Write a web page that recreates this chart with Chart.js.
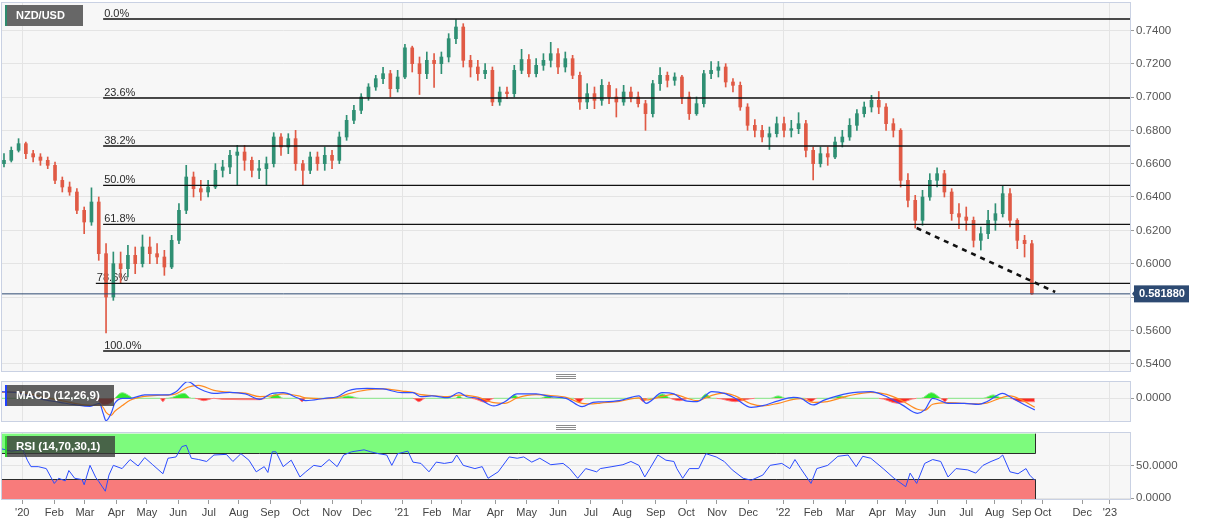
<!DOCTYPE html>
<html><head><meta charset="utf-8">
<script src="https://cdn.jsdelivr.net/npm/chart.js@4.4.1/dist/chart.umd.min.js"></script>
<style>
html,body{margin:0;padding:0;background:#fff;}
body{width:1207px;height:526px;position:relative;overflow:hidden;}
canvas{position:absolute;left:0;}
.grip{position:absolute;left:556px;width:20px;height:3px;border-top:1px solid #8c8c8c;border-bottom:1px solid #8c8c8c;}
.grip:after{content:"";position:absolute;left:0;right:0;top:1px;height:1px;background:#8c8c8c;}
</style></head>
<body>
<canvas id="cMain" width="1207" height="374" style="top:0px"></canvas>
<canvas id="cMacd" width="1207" height="45" style="top:379px"></canvas>
<canvas id="cRsi" width="1207" height="97" style="top:429px"></canvas>
<div class="grip" style="top:374px"></div>
<div class="grip" style="top:425px"></div>
<script>
// ---------------- DATA (weekly candles, x = week index) ----------------
const symbol = 'NZD/USD';
const opens = [.660,.662,.668,.672,.666,.664,.662,.659,.650,.646,
 .643,.632,.625,.637,.606,.580,.600,.597,.605,.600,
 .610,.606,.604,.598,.614,.632,.652,.645,.643,.646,
 .656,.658,.665,.667,.662,.656,.657,.660,.676,.670,
 .675,.660,.656,.664,.660,.665,.662,.676,.686,.692,
 .700,.706,.711,.714,.705,.712,.7295,.720,.714,.722,
 .720,.724,.735,.742,.722,.718,.714,.716,.697,.703,
 .702,.716,.7225,.714,.719,.722,.726,.718,.723,.713,
 .697,.702,.698,.707,.700,.697,.703,.700,.696,.690,
 .708,.713,.710,.712,.700,.690,.696,.714,.716,.718,
 .709,.707,.694,.683,.680,.676,.678,.684,.680,.681,
 .684,.668,.660,.666,.664,.673,.676,.683,.690,.694,
 .698,.694,.684,.680,.650,.638,.626,.640,.650,.654,
 .643,.630,.628,.626,.614,.618,.626,.630,.642,.626,
 .614,.612];
const highs = [.666,.670,.675,.673,.668,.666,.664,.661,.652,.649,
 .645,.634,.6455,.640,.612,.607,.607,.611,.610,.6172,
 .616,.612,.608,.617,.636,.659,.655,.650,.650,.660,
 .662,.668,.671,.671,.664,.662,.664,.6786,.678,.678,
 .680,.662,.667,.667,.670,.668,.679,.689,.695,.702,
 .708,.713,.7178,.716,.716,.7316,.7305,.724,.727,.726,
 .727,.738,.7465,.744,.725,.722,.720,.718,.706,.706,
 .719,.7286,.7255,.723,.726,.7328,.729,.727,.725,.715,
 .708,.706,.7105,.709,.705,.707,.706,.703,.698,.710,
 .7177,.715,.7145,.713,.703,.700,.716,.7213,.7213,.720,
 .711,.709,.696,.6865,.683,.682,.688,.688,.686,.6906,
 .686,.670,.670,.670,.676,.680,.687,.6925,.697,.701,
 .7033,.696,.687,.681,.654,.641,.644,.654,.6575,.656,
 .645,.636,.634,.628,.622,.632,.636,.6467,.645,.627,
 .617,.614];
const lows = [.658,.661,.667,.663,.661,.659,.657,.648,.643,.641,
 .630,.618,.623,.602,.5585,.578,.588,.592,.594,.598,
 .600,.600,.593,.597,.612,.630,.640,.638,.640,.645,
 .652,.654,.647,.656,.652,.651,.647,.658,.665,.666,
 .656,.647,.654,.656,.656,.657,.660,.674,.684,.690,
 .698,.704,.708,.700,.703,.711,.715,.7015,.711,.7057,
 .714,.721,.732,.718,.712,.710,.711,.6948,.695,.699,
 .700,.714,.712,.712,.716,.718,.714,.715,.711,.6925,
 .693,.693,.695,.696,.688,.695,.697,.694,.680,.688,
 .704,.706,.707,.696,.6865,.689,.694,.711,.712,.706,
 .703,.692,.680,.676,.673,.6685,.676,.676,.676,.678,
 .664,.6503,.658,.659,.663,.670,.674,.680,.688,.691,
 .690,.680,.676,.646,.634,.6214,.623,.638,.646,.640,
 .626,.621,.620,.610,.6082,.615,.620,.628,.622,.609,
 .604,.5815];
const closes = [.662,.668,.672,.666,.664,.662,.659,.650,.646,.643,
 .632,.625,.637,.606,.580,.600,.597,.605,.600,.610,
 .606,.604,.598,.614,.632,.652,.645,.643,.646,.656,
 .658,.665,.667,.662,.656,.657,.660,.676,.670,.675,
 .660,.656,.664,.660,.665,.662,.676,.686,.692,.700,
 .706,.711,.714,.705,.712,.7295,.720,.714,.722,.720,
 .724,.735,.742,.722,.718,.714,.716,.697,.703,.702,
 .716,.7225,.714,.719,.722,.726,.718,.723,.713,.697,
 .702,.698,.707,.700,.697,.703,.700,.696,.690,.708,
 .713,.710,.712,.700,.690,.696,.714,.716,.718,.709,
 .707,.694,.683,.680,.676,.678,.684,.680,.681,.684,
 .668,.660,.666,.664,.673,.676,.683,.690,.694,.698,
 .694,.684,.680,.650,.638,.626,.640,.650,.654,.643,
 .630,.628,.626,.614,.618,.626,.630,.642,.626,.614,
 .612,.58188];
const lastPrice = 0.581880;

const fibRatios = ['0.0%','23.6%','38.2%','50.0%','61.8%','78.6%','100.0%'];
const fibLevels = [0.7468,0.6994,0.6706,0.6470,0.6236,0.5882,0.5476];
const fibStartWeek = [13.6,13.6,13.6,13.6,13.6,12.6,13.6];

const trendWeeks = [125.2,144.2];
const trendPrices = [0.6214,0.5830];

const priceTicks = [0.54,0.56,0.58,0.60,0.62,0.64,0.66,0.68,0.70,0.72,0.74];

const macdLabel = 'MACD (12,26,9)';
const macdWeeks = [-0.5,1.5,3.6,5.6,7.7,9.7,11.8,13.1,13.6,14.0,14.7,15.2,16.3,17.3,19.3,21.0,22.5,23.6,25.2,26.7,28.8,31.0,33.1,35.1,36.8,38.3,40.4,41.4,44.0,45.7,47.2,49.8,52.0,54.6,56.1,57.2,58.7,60.9,62.4,63.5,65.0,67.2,68.7,70.4,73.0,75.0,77.1,79.3,80.8,81.8,84.4,87.1,88.1,90.3,91.9,93.4,95.1,97.1,98.8,100.3,102.5,104.1,106.2,108.3,109.3,111.0,112.6,115.8,118.9,121.1,123.2,125.3,126.3,127.4,129.5,131.7,133.7,134.8,137.0,138.0,139.6,141.4];
const macdVals = [0.0033,0.0030,0.0012,-0.0008,-0.0020,-0.0032,-0.0040,-0.0025,-0.0075,-0.0112,
 -0.0075,-0.0025,0,0,0.0017,0.0017,0.0017,0.0033,0.0083,0.0050,
 0.0025,0.0030,0.0022,-0.0005,0.0025,0.0028,0,-0.0012,0,0.0008,
 0.0038,0.0050,0.0047,0.0028,0.0028,0.0008,0.0012,0.0003,0.0028,0.0008,
 0,-0.0038,-0.0017,0.0022,0.0022,0.0008,0,-0.0042,-0.0020,-0.0018,
 -0.0012,0.0012,-0.0025,0.0028,0.0022,-0.0012,-0.0017,0.0033,0.0025,0,
 -0.0045,-0.0037,-0.0013,0.0005,0,-0.0033,-0.0008,0.0025,0.0033,0.0008,
 -0.0033,-0.0075,-0.0058,0,-0.0025,-0.0025,-0.0030,-0.0017,0.0025,0.0008,
 -0.0025,-0.0058];
const signalVals = [0.0030,0.0031,0.0022,0.0005,-0.0010,-0.0025,-0.0035,-0.0033,-0.0045,-0.0070,
 -0.0085,-0.0065,-0.0035,-0.0010,0.0010,0.0015,0.0016,0.0022,0.0055,0.0065,
 0.0040,0.0030,0.0026,0.0008,0.0012,0.0022,0.0012,0.0002,-0.0002,0.0003,
 0.0022,0.0042,0.0047,0.0036,0.0030,0.0018,0.0014,0.0008,0.0016,0.0015,
 0.0006,-0.0022,-0.0025,0.0002,0.0018,0.0014,0.0005,-0.0025,-0.0028,-0.0024,
 -0.0015,0.0002,-0.0008,0.0010,0.0020,0.0004,-0.0012,0.0015,0.0026,0.0012,
 -0.0028,-0.0038,-0.0025,-0.0005,-0.0002,-0.0020,-0.0018,0.0012,0.0030,0.0020,
 -0.0012,-0.0055,-0.0060,-0.0030,-0.0022,-0.0025,-0.0028,-0.0024,0.0005,0.0012,
 -0.0008,-0.0045];
const histWeeks = [-0.5,12.5,13.6,14.8,15.2,16.2,17.3,17.7,21.4,21.8,22.2,22.5,24.7,25.7,26.2,27.4,28.8,29.9,35.1,35.9,36.2,37.3,38.3,40.3,40.9,41.4,45.7,47.2,48.8,56.1,56.9,57.8,61.9,62.4,63.0,64.1,66.1,67.2,69.3,70.0,70.8,73.5,74.6,75.6,78.2,78.9,79.6,87.1,87.7,88.3,89.1,90.3,91.4,92.7,94.0,95.5,96.3,97.1,97.7,100.3,103.0,105.1,106.2,107.3,109.9,110.7,111.5,113.6,114.7,115.8,120.0,122.6,125.2,125.8,127.2,128.5,129.1,129.5,134.3,135.7,137.0,138.0,139.4,141.4];
const histVals = [0,0,-0.0033,-0.0020,0,0.0028,0.0010,0,0,-0.0017,0,0,0.0025,0,0,-0.0012,0,-0.0005,-0.0007,0,0,0.0022,0,0,-0.0017,0,0,0.0012,0,0,-0.0017,0,0,0.0012,0,0,-0.0020,0,0,0.0017,0,0,0.0012,0,0,-0.0022,0,0,-0.0017,0,0,0.0022,0,-0.0012,0,0,0.0022,0,0,-0.0017,0,0,0.0012,0,0,-0.0017,0,0,0.0012,0,0,-0.0025,0,0,0.0028,0,-0.0017,0,0,0.0017,0,0,-0.0017,-0.0017];

const rsiLabel = 'RSI (14,70,30,1)';
const rsiUpper = 70, rsiLower = 30;
const rsiWeeks = [-0.5,1.0,2.6,3.2,3.7,4.7,5.8,6.9,7.5,8.4,8.9,9.7,10.7,11.0,11.8,12.6,13.0,13.9,14.4,15.0,16.2,17.3,18.4,19.3,20.4,21.8,22.5,23.6,24.4,25.0,25.7,26.7,27.8,28.8,30.5,31.4,32.5,33.6,34.6,35.7,36.2,36.8,37.3,38.3,39.4,40.6,41.4,42.5,43.5,44.6,45.7,46.6,47.7,49.4,50.3,51.4,52.5,53.2,54.0,55.4,56.1,57.2,58.3,59.3,60.4,61.5,62.1,63.0,64.6,65.6,66.4,67.8,69.3,70.4,71.3,72.4,73.5,75.0,76.7,77.6,78.7,79.8,81.3,81.8,83.4,84.9,86.0,87.1,87.9,88.6,89.7,90.8,91.9,92.3,93.1,94.0,95.3,96.3,97.7,98.8,99.9,101.4,102.5,104.1,105.1,106.7,107.8,108.5,109.3,110.7,111.5,113.0,114.4,115.8,116.9,117.8,118.9,120.6,122.1,123.7,124.3,125.2,126.3,127.4,128.5,129.5,130.6,132.2,133.3,134.3,135.4,136.5,137.0,138.0,139.1,140.2,140.7,141.4];
const rsiVals = [77,73,75,59,49,49,46,23,31,27,43,31,29,21,51,32,26,11,36,51,46,60,50,63,52,38,62,64,80,82,62,60,57,67,68,57,69,59,41,49,40,72,72,49,59,33,41,51,49,60,49,67,72,75,72,69,67,51,69,73,56,54,41,56,54,56,67,51,46,49,31,41,64,62,64,56,62,52,54,46,31,46,41,46,49,52,57,51,33,46,67,59,57,46,31,46,46,69,64,57,44,31,28,36,51,54,46,60,46,23,46,51,65,67,49,65,62,46,31,18,39,23,54,60,57,33,46,44,39,51,57,62,67,41,38,46,36,28];

const monthLabels = ["'20","Feb","Mar","Apr","May","Jun","Jul","Aug","Sep","Oct","Nov","Dec","'21","Feb","Mar","Apr","May","Jun","Jul","Aug","Sep","Oct","Nov","Dec","'22","Feb","Mar","Apr","May","Jun","Jul","Aug","Sep","Oct","Dec","'23"];
const monthWeeks = [2.5,6.9,11.1,15.4,19.6,23.9,28.1,32.2,36.5,40.7,45.0,49.1,54.6,58.7,62.8,67.4,71.7,76.0,80.5,84.8,89.4,93.6,97.8,102.1,106.9,111.0,115.4,119.8,123.7,128.0,132.0,135.9,139.6,142.5,147.9,151.7];
const yearWeeks = [2.5,54.6,106.9,151.7];

// ---------------- STYLE ----------------
const FONT = '"Liberation Sans", Arial, sans-serif';
const GREEN = '#2f8f73', RED = '#e05a45', GRID = '#e4e4e4', FRAME = '#c9d1e3', BG = '#f7f7f7';
const X_MIN = -0.41, X_MAX = 154.6, AXIS_W = 76;
Chart.defaults.font.family = FONT;
Chart.defaults.animation = false;
Chart.defaults.events = [];
Chart.defaults.plugins.legend.display = false;
Chart.defaults.plugins.tooltip.enabled = false;

function xScale(ticksArr, labelled) {
  return {
    type: 'linear', min: X_MIN, max: X_MAX, offset: false,
    afterBuildTicks: s => { s.ticks = ticksArr.map(v => ({ value: v })); },
    afterFit: s => { s.height = labelled ? 26 : 0; s.paddingLeft = 0; s.paddingRight = 0; },
    ticks: labelled ? { display: true, autoSkip: false, maxRotation: 0, minRotation: 0, padding: 2, color: '#444', font: { size: 11 }, callback: (v, i) => monthLabels[i] } : { display: false },
    grid: labelled ? { offset: false, color: c => (monthLabels[c.index] || '').charAt(0) === "'" ? GRID : 'rgba(0,0,0,0)', tickColor: '#9a9a9a', tickLength: 4 }
                   : { offset: false, color: GRID, drawTicks: false },
    border: { display: false }
  };
}
function yScale(min, max, ticksArr, fmt) {
  return {
    position: 'right', min, max,
    afterBuildTicks: s => { s.ticks = ticksArr.map(v => ({ value: v })); },
    afterFit: s => { s.width = AXIS_W; s.paddingTop = 0; s.paddingBottom = 0; },
    ticks: { color: '#555', font: { size: 11.5 }, padding: 2, callback: fmt },
    grid: { color: GRID, tickLength: 3, tickColor: '#9a9a9a' },
    border: { display: false }
  };
}
function frameBg(chart) {
  const { ctx, chartArea: a } = chart;
  ctx.save(); ctx.fillStyle = BG; ctx.fillRect(a.left, a.top, a.right - a.left, a.bottom - a.top); ctx.restore();
}
function frameLine(chart) {
  const { ctx, chartArea: a } = chart;
  ctx.save(); ctx.strokeStyle = FRAME; ctx.lineWidth = 1;
  ctx.strokeRect(a.left + 0.5, a.top + 0.5, a.right - a.left - 1, a.bottom - a.top - 1); ctx.restore();
}
function tagBox(ctx, x, y, w, h, bg, edge, text, font) {
  ctx.save();
  ctx.fillStyle = bg; ctx.fillRect(x, y, w, h);
  ctx.fillStyle = edge; ctx.fillRect(x, y, 2, h);
  ctx.fillStyle = '#fff'; ctx.font = font; ctx.textBaseline = 'middle'; ctx.textAlign = 'left';
  ctx.fillText(text, x + 11, y + h / 2 + 0.5);
  ctx.restore();
}
const lineDs = (data, color, width, dash) => ({ type: 'line', data, borderColor: color, borderWidth: width, borderDash: dash || [], pointRadius: 0, tension: 0, fill: false, order: 0 });

// ---------------- MAIN PRICE CHART ----------------
const candleIdx = opens.map((_, i) => i);
const candleColor = c => closes[c.dataIndex] >= opens[c.dataIndex] ? GREEN : RED;

new Chart(document.getElementById('cMain'), {
  type: 'bar',
  data: { datasets: [
    { type: 'bar', data: candleIdx.map(i => ({ x: i, y: [lows[i], highs[i]] })), backgroundColor: candleColor, barThickness: 1, grouped: false, order: 2 },
    { type: 'bar', data: candleIdx.map(i => ({ x: i, y: [opens[i], closes[i]] })), backgroundColor: candleColor, barThickness: 3, minBarLength: 1, grouped: false, order: 1 },
    ...fibLevels.map((lv, k) => lineDs([{ x: fibStartWeek[k], y: lv }, { x: X_MAX, y: lv }], '#111', 1.4)),
    lineDs([{ x: X_MIN, y: lastPrice }, { x: X_MAX, y: lastPrice }], '#2d4a72', 1),
    lineDs(trendWeeks.map((w, k) => ({ x: w, y: trendPrices[k] })), '#111', 2.6, [5, 5])
  ] },
  options: {
    responsive: false,
    layout: { padding: { left: 1, top: 2, right: 0, bottom: 2 } },
    scales: { x: xScale(yearWeeks, false), y: yScale(0.535, 0.757, priceTicks, v => Number(v).toFixed(4)) }
  },
  plugins: [{
    id: 'mainDeco',
    beforeDraw: frameBg,
    beforeDatasetsDraw(chart) {
      const { ctx, scales: { x, y } } = chart;
      ctx.save(); ctx.fillStyle = '#2a2a2a'; ctx.font = '11px ' + FONT; ctx.textBaseline = 'alphabetic';
      fibLevels.forEach((lv, k) => ctx.fillText(fibRatios[k], x.getPixelForValue(fibStartWeek[k]) + 1, y.getPixelForValue(lv) - 2));
      ctx.restore();
    },
    afterDraw(chart) {
      frameLine(chart);
      const { ctx, chartArea: a, scales: { y } } = chart;
      tagBox(ctx, 5, 5, 78, 21, '#676767', '#2e8b6e', symbol, 'bold 11px ' + FONT);
      const py = y.getPixelForValue(lastPrice);
      ctx.save();
      ctx.fillStyle = '#2d4a72';
      ctx.beginPath(); ctx.moveTo(a.right + 1, py); ctx.lineTo(a.right + 5, py - 5); ctx.lineTo(a.right + 5, py + 5); ctx.closePath(); ctx.fill();
      ctx.fillRect(a.right + 3, py - 8.5, 55, 17);
      ctx.fillStyle = '#fff'; ctx.font = 'bold 11px ' + FONT; ctx.textBaseline = 'middle';
      ctx.fillText(lastPrice.toFixed(6), a.right + 8, py + 0.5);
      ctx.restore();
    }
  }]
});

// ---------------- MACD ----------------
const pts = (xs, ys) => xs.map((w, k) => ({ x: w, y: ys[k] }));
new Chart(document.getElementById('cMacd'), {
  type: 'line',
  data: { datasets: [
    { data: pts(histWeeks, histVals), borderWidth: 1, borderColor: '#86e886',
      segment: { borderColor: c => (c.p0.parsed.y + c.p1.parsed.y) < 0 ? '#ff7a7a' : '#86e886' },
      fill: { target: 'origin', above: '#2fe82f', below: '#ff2626' }, pointRadius: 0, cubicInterpolationMode: 'monotone', order: 3 },
    { data: pts(macdWeeks, signalVals), borderColor: '#ff8a1f', borderWidth: 1.2, pointRadius: 0, cubicInterpolationMode: 'monotone', fill: false, order: 2 },
    { data: pts(macdWeeks, macdVals), borderColor: '#3050ff', borderWidth: 1.2, pointRadius: 0, cubicInterpolationMode: 'monotone', fill: false, order: 1 }
  ] },
  options: {
    responsive: false,
    layout: { padding: { left: 1, top: 2, right: 0, bottom: 2 } },
    scales: { x: xScale(yearWeeks, false), y: yScale(-0.01185, 0.00865, [0], v => Number(v).toFixed(4)) }
  },
  plugins: [{
    id: 'macdDeco',
    beforeDraw: frameBg,
    afterDraw(chart) {
      frameLine(chart);
      tagBox(chart.ctx, 5, 6, 109, 21, 'rgba(58,58,58,0.8)', '#2040ff', macdLabel, 'bold 11.5px ' + FONT);
    }
  }]
});

// ---------------- RSI ----------------
new Chart(document.getElementById('cRsi'), {
  type: 'line',
  data: { datasets: [
    { data: pts(rsiWeeks, rsiVals), borderColor: '#2b4cff', borderWidth: 1, pointRadius: 0, tension: 0, fill: false }
  ] },
  options: {
    responsive: false,
    layout: { padding: { left: 1, top: 3, right: 0, bottom: 0 } },
    scales: { x: xScale(monthWeeks, true), y: yScale(-2.6, 102.6, [0, 50], v => Number(v).toFixed(4)) }
  },
  plugins: [{
    id: 'rsiDeco',
    beforeDraw: frameBg,
    beforeDatasetsDraw(chart) {
      const { ctx, chartArea: a, scales: { x, y } } = chart;
      const xr = Math.round(x.getPixelForValue(rsiWeeks[rsiWeeks.length - 1])) + 0.5;
      const yTop = y.getPixelForValue(100), yU = Math.round(y.getPixelForValue(rsiUpper)) + 0.5;
      const yL = Math.round(y.getPixelForValue(rsiLower)) + 0.5, yB = y.getPixelForValue(0) + 1;
      ctx.save();
      ctx.fillStyle = '#7dfb7d'; ctx.fillRect(a.left, yTop, xr - a.left, yU - yTop);
      ctx.fillStyle = '#f87b7b'; ctx.fillRect(a.left, yL, xr - a.left, yB - yL);
      ctx.strokeStyle = '#2b2b2b'; ctx.lineWidth = 1;
      ctx.beginPath();
      ctx.moveTo(a.left, yU); ctx.lineTo(xr, yU); ctx.lineTo(xr, yTop);
      ctx.moveTo(a.left, yL); ctx.lineTo(xr, yL); ctx.lineTo(xr, yB);
      ctx.stroke();
      ctx.restore();
    },
    afterDraw(chart) {
      frameLine(chart);
      tagBox(chart.ctx, 5, 7, 110, 21, 'rgba(58,58,58,0.78)', '#2fd02f', rsiLabel, 'bold 11.5px ' + FONT);
    }
  }]
});
</script>
</body></html>
